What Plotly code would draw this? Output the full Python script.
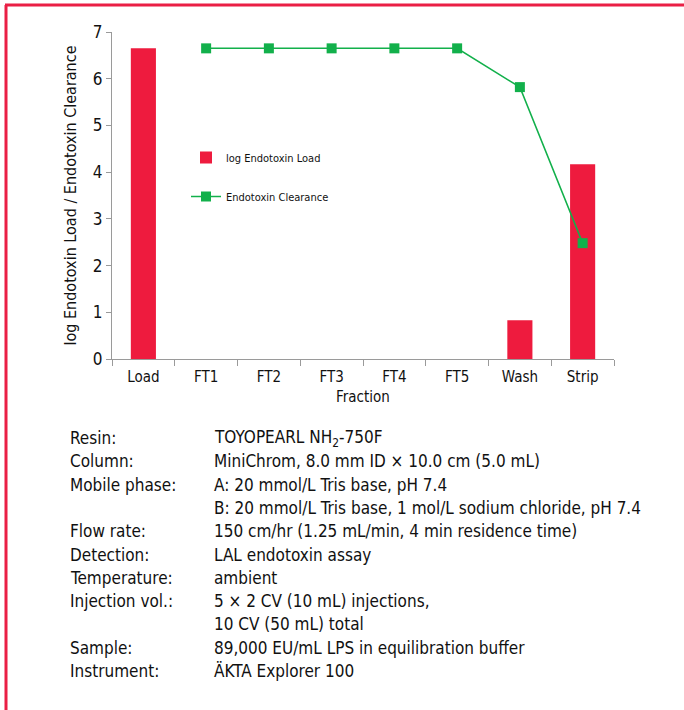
import plotly.graph_objects as go

fractions = ["Load", "FT1", "FT2", "FT3", "FT4", "FT5", "Wash", "Strip"]
log_load = [6.65, None, None, None, None, None, 0.83, 4.17]
clear_x = ["FT1", "FT2", "FT3", "FT4", "FT5", "Wash", "Strip"]
clearance = [6.65, 6.65, 6.65, 6.65, 6.65, 5.82, 2.48]

info_labels = ["Resin:", "Column:", "Mobile phase:", "", "Flow rate:", "Detection:",
               "Temperature:", "Injection vol.:", "", "Sample:", "Instrument:"]
info_values = ["TOYOPEARL NH<sub>2</sub>-750F",
               "MiniChrom, 8.0 mm ID × 10.0 cm (5.0 mL)",
               "A: 20 mmol/L Tris base, pH 7.4",
               "B: 20 mmol/L Tris base, 1 mol/L sodium chloride, pH 7.4",
               "150 cm/hr (1.25 mL/min, 4 min residence time)",
               "LAL endotoxin assay",
               "ambient",
               "5 × 2 CV (10 mL) injections,",
               "10 CV (50 mL) total",
               "89,000 EU/mL LPS in equilibration buffer",
               "ÄKTA Explorer 100"]

FONT = "Liberation Sans Narrow, DejaVu Sans Condensed, Arial Narrow, sans-serif"
RED = "#EE1B3E"
GREEN = "#12B04B"

W, H = 684, 710
L, R, T, B = 112, 70, 32, 351
pw, ph = W - L - R, H - T - B

def px(x):
    return (x - L) / pw

def py(y):
    return (H - B - y) / ph

fig = go.Figure()
fig.add_trace(go.Bar(x=fractions, y=log_load, name="log Endotoxin Load",
                     marker=dict(color=RED, line=dict(width=0)), width=0.4,
                     legendgroup="a"))
fig.add_trace(go.Scatter(x=clear_x, y=clearance, name="Endotoxin Clearance",
                         mode="lines+markers",
                         line=dict(color=GREEN, width=1.5),
                         marker=dict(symbol="square", size=10, color=GREEN),
                         legendgroup="b"))

annotations = []
y0 = 438
step = 23.3
for i, (lab, val) in enumerate(zip(info_labels, info_values)):
    yy = y0 + i * step
    if lab:
        annotations.append(dict(x=px(68), y=py(yy), xref="paper", yref="paper",
                                text=lab, showarrow=False, xanchor="left", yanchor="middle",
                                font=dict(size=17, color="#111", family=FONT)))
    annotations.append(dict(x=px(212), y=py(yy), xref="paper", yref="paper",
                            text=val, showarrow=False, xanchor="left", yanchor="middle",
                            font=dict(size=17, color="#111", family=FONT)))

shapes = [
    dict(type="line", xref="paper", yref="paper", x0=px(5), x1=px(700), y0=py(5), y1=py(5),
         line=dict(color="#EA1F45", width=3)),
    dict(type="line", xref="paper", yref="paper", x0=px(6), x1=px(6), y0=py(5), y1=py(720),
         line=dict(color="#EA1F45", width=3)),
]

fig.update_layout(
    width=W, height=H,
    margin=dict(l=L, r=R, t=T, b=B),
    paper_bgcolor="white", plot_bgcolor="white",
    font=dict(family=FONT, color="#111"),
    bargap=0.6,
    showlegend=True,
    legend=dict(x=px(186), y=py(143), xanchor="left", yanchor="top",
                font=dict(size=11, family=FONT), bgcolor="rgba(0,0,0,0)",
                tracegroupgap=20, traceorder="grouped"),
    xaxis=dict(categoryorder="array", categoryarray=fractions,
               showline=True, linecolor="#9a9a9a", linewidth=1,
               ticks="outside", tickson="boundaries", ticklen=6, tickcolor="#9a9a9a",
               tickfont=dict(size=15), ticklabelstandoff=4,
               showgrid=False, zeroline=False,
               title=dict(text="Fraction", font=dict(size=15), standoff=6)),
    yaxis=dict(range=[0, 7], dtick=1, showline=True, linecolor="#9a9a9a", linewidth=1,
               ticks="outside", ticklen=5, tickcolor="#9a9a9a",
               tickfont=dict(size=17), showgrid=False, zeroline=False,
               title=dict(text="log Endotoxin Load / Endotoxin Clearance",
                          font=dict(size=16), standoff=12)),
    annotations=annotations,
    shapes=shapes,
)

fig.write_html("out.html", config={"displayModeBar": False},
               post_script="document.body.style.margin='0';")
